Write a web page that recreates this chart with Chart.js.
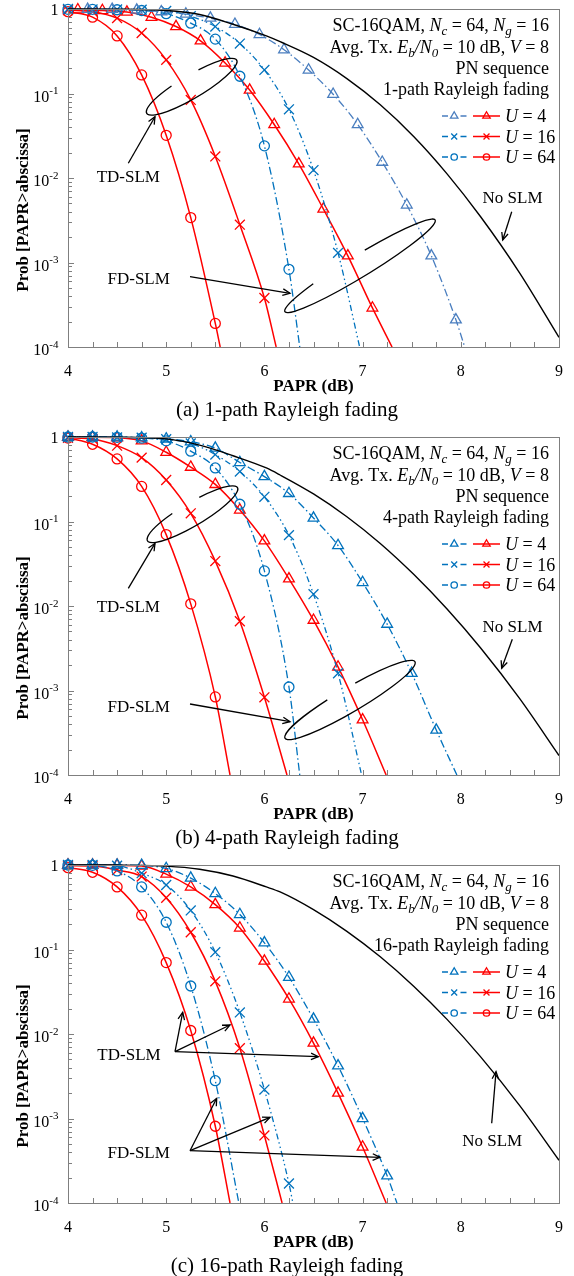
<!DOCTYPE html>
<html><head><meta charset="utf-8">
<script src="https://cdn.jsdelivr.net/npm/chart.js@4/dist/chart.umd.min.js"></script>
<style>
html,body{margin:0;padding:0;background:#fff;}
canvas{display:block;}
</style></head><body>
<canvas id="c0" width="574" height="428"></canvas>
<canvas id="c1" width="574" height="428"></canvas>
<canvas id="c2" width="574" height="420"></canvas>
<script>
// ---------- DATA ----------
const PAPR_GRID = [4,4.25,4.5,4.75,5,5.25,5.5,5.75,6,6.25,6.5,6.75,7,7.25,7.5,7.75];

// (a) 1-path
const A_TD64 = [0.93,0.80,0.48,0.166,0.032,0.0034,1.9e-4];
const A_TD16 = [0.97,0.93,0.78,0.52,0.25,0.084,0.018,2.8e-3,3.8e-4];
const A_TD4_X = [4.1,4.35,4.6,4.85,5.1,5.35,5.6,5.85,6.1,6.35,6.6,6.85,7.1];
const A_TD4 = [0.98,0.96,0.92,0.80,0.62,0.42,0.23,0.11,0.043,0.0147,4.3e-3,1.2e-3,2.9e-4];
const A_FD64 = [0.99,0.99,0.98,0.96,0.88,0.68,0.44,0.16,0.024,8.3e-4];
const A_FD16 = [1.0,0.99,0.99,0.98,0.95,0.82,0.62,0.39,0.19,0.065,0.0124,1.3e-3];
const A_FD4_X = [4.2,4.45,4.7,4.95,5.2,5.45,5.7,5.95,6.2,6.45,6.7,6.95,7.2,7.45,7.7,7.95];
const A_FD4 = [0.995,0.99,0.97,0.93,0.87,0.78,0.66,0.50,0.33,0.19,0.098,0.043,0.0154,4.8e-3,1.2e-3,2.1e-4];
const A_NOSLM_X = [4,4.5,5,5.34,5.68,6.02,6.16,6.5,6.84,7.18,7.52,7.86,8.2,8.6,9];
const A_NOSLM = [1.0,0.995,0.96,0.86,0.66,0.48,0.41,0.267,0.150,0.0735,0.031,0.0112,3.5e-3,7.5e-4,1.3e-4];
// PAPR where each curve leaves the plot at Prob = 1e-4 : TD64, TD16, TD4, FD64, FD16, FD4
const A_END = [5.55,6.12,7.30,6.36,6.97,8.04];

// (b) 4-path
const B_TD64 = [0.97,0.82,0.55,0.26,0.07,0.0106,8.4e-4];
const B_TD16 = [0.98,0.95,0.79,0.57,0.31,0.125,0.034,6.6e-3,8.3e-4];
const B_TD4 = [0.99,0.99,0.98,0.90,0.66,0.44,0.275,0.137,0.059,0.021,6.8e-3,1.9e-3,4.5e-4];
const B_FD64 = [1.0,1.0,0.99,0.97,0.90,0.68,0.43,0.16,0.026,1.1e-3];
const B_FD16 = [1.0,1.0,0.99,0.98,0.94,0.84,0.62,0.39,0.196,0.069,0.0138,1.6e-3];
const B_FD4 = [1.0,1.0,1.0,0.98,0.95,0.88,0.74,0.50,0.34,0.215,0.11,0.052,0.019,6.1e-3,1.6e-3,3.4e-4];
const B_NOSLM_X = [4,4.5,5,5.34,5.68,6.02,6.16,6.5,6.84,7.18,7.52,7.86,8.2,8.6,9];
const B_NOSLM = [1.0,0.995,0.95,0.80,0.60,0.43,0.355,0.212,0.114,0.055,0.0237,9.2e-3,3.2e-3,8.0e-4,1.7e-4];
const B_END = [5.65,6.23,7.24,6.36,6.99,7.96];

// (c) 16-path
const C_TD64 = [0.93,0.82,0.55,0.255,0.07,0.011,8.1e-4];
const C_TD16 = [0.98,0.97,0.87,0.73,0.41,0.16,0.042,6.8e-3,6.3e-4];
const C_TD4 = [1.0,1.0,0.99,0.97,0.78,0.55,0.34,0.18,0.073,0.026,7.8e-3,2.0e-3,4.6e-4];
const C_FD64 = [1.0,0.99,0.85,0.55,0.21,0.037,2.8e-3];
const C_FD16 = [1.0,1.0,0.98,0.80,0.58,0.29,0.093,0.018,2.2e-3,1.7e-4];
const C_FD4 = [1.0,1.0,1.0,0.99,0.91,0.70,0.46,0.26,0.12,0.047,0.015,4.2e-3,1.0e-3,2.1e-4];
const C_NOSLM_X = [4,4.5,5,5.34,5.68,6.02,6.16,6.5,6.84,7.18,7.52,7.86,8.2,8.6,9];
const C_NOSLM = [1.0,0.998,0.97,0.89,0.74,0.55,0.48,0.296,0.164,0.082,0.0368,0.0149,5.4e-3,1.42e-3,3.2e-4];
const C_END = [5.65,6.18,7.24,5.74,6.29,7.35];

const X_TICKS = [4,5,6,7,8,9];
const Y_DECADES = [-4,-3,-2,-1,0];
const U_LABELS = ['4','16','64'];
const CAPTIONS = ['(a) 1-path Rayleigh fading','(b) 4-path Rayleigh fading','(c) 16-path Rayleigh fading'];
const FADING = ['1-path Rayleigh fading','4-path Rayleigh fading','16-path Rayleigh fading'];

// ---------- STYLE ----------
const SERIF = "'Liberation Serif','Times New Roman',Times,serif";
const RED = '#ff0000', BLUE = '#0072bd', BLUE_L = '#4a7ebf', AXIS = '#7f7f7f';
const DASH_A = [8,3,1.5,3], DASH_B = [6,3,1.5,3,1.5,3];

function grid(ys){ return PAPR_GRID.slice(0, ys.length); }
function ds(label, xs, ys, endX, color, style, dash, r, lw) {
  const n = xs.length;
  const data = xs.map((x,i)=>({x:x, y:ys[i]}));
  if (endX != null) data.push({x:endX, y:1e-4});
  return {
    label, data, borderColor: color, borderWidth: lw||1.5, borderDash: dash||[],
    pointStyle: style, pointRadius: c => (c.dataIndex < n && style) ? r : 0,
    pointHoverRadius: 0, pointBorderColor: color, pointBackgroundColor: 'rgba(0,0,0,0)',
    pointBorderWidth: 1.3, fill: false, cubicInterpolationMode: 'monotone',
    clip: {left: 8, top: 8, right: 0, bottom: 0}
  };
}
function panelSets(p) {
  const d = [];
  d.push(ds('No SLM', p.nx, p.ny, null, '#000', false, [], 0, 1.4));
  d.push(ds('FD U=4', p.fd4x, p.fd4, p.end[5], p.triColor, 'triangle', DASH_A, 6.2, 1.3));
  d.push(ds('FD U=16', grid(p.fd16), p.fd16, p.end[4], BLUE, 'crossRot', DASH_B, 7, 1.3));
  d.push(ds('FD U=64', grid(p.fd64), p.fd64, p.end[3], BLUE, 'circle', DASH_A, 5, 1.3));
  d.push(ds('TD U=4', p.td4x, p.td4, p.end[2], RED, 'triangle', [], 6.2, 1.5));
  d.push(ds('TD U=16', grid(p.td16), p.td16, p.end[1], RED, 'crossRot', [], 7, 1.5));
  d.push(ds('TD U=64', grid(p.td64), p.td64, p.end[0], RED, 'circle', [], 5, 1.5));
  return d;
}
const PANELS = [
  {nx:A_NOSLM_X, ny:A_NOSLM, td64:A_TD64, td16:A_TD16, td4x:A_TD4_X, td4:A_TD4,
   fd64:A_FD64, fd16:A_FD16, fd4x:A_FD4_X, fd4:A_FD4, end:A_END, triColor:BLUE_L},
  {nx:B_NOSLM_X, ny:B_NOSLM, td64:B_TD64, td16:B_TD16, td4x:grid(B_TD4), td4:B_TD4,
   fd64:B_FD64, fd16:B_FD16, fd4x:grid(B_FD4), fd4:B_FD4, end:B_END, triColor:BLUE},
  {nx:C_NOSLM_X, ny:C_NOSLM, td64:C_TD64, td16:C_TD16, td4x:grid(C_TD4), td4:C_TD4,
   fd64:C_FD64, fd16:C_FD16, fd4x:grid(C_FD4), fd4:C_FD4, end:C_END, triColor:BLUE}
];

// annotation layout (canvas pixels)
const ANNOT = [
  { ellipses: [{cx:191.7, cy:86.7, a:52.3, b:11.5, rot:-30.6, gap:[-109,-74]},
               {cx:360, cy:265.8, a:88, b:11, rot:-31.4, gap:[-124,-82]}],
    arrows: [[128.3,163.3,155,116.7],[190,276.7,290,293.3],[511.7,211.7,502.7,240]],
    texts: [['TD-SLM',128.3,182],['FD-SLM',138.7,284],['No SLM',512.5,203]] },
  { ellipses: [{cx:192.5, cy:86.2, a:52.3, b:11.5, rot:-30.6, gap:[-109,-74]},
               {cx:350, cy:272, a:75.4, b:12, rot:-30.5, gap:[-105,-80]}],
    arrows: [[128.3,160.3,155,115.3],[190,276,290,293.7],[512.3,211.3,501.7,240.3]],
    texts: [['TD-SLM',128.3,183.7],['FD-SLM',138.7,283.7],['No SLM',512.5,203.7]] },
  { ellipses: [],
    arrows: [[175,195.7,182.7,156.3],[175,195.7,230,169],[175,195.7,318.3,200.7],
             [190,294.7,216.7,242.3],[190,294.7,270,261.3],[190,294.7,380,301.3],
             [491.7,267.3,496,215.7]],
    texts: [['TD-SLM',129,204],['FD-SLM',138.7,302.3],['No SLM',492.2,290]] }
];

function marker(ctx, style, x, y, r, color, lw) {
  ctx.save(); ctx.strokeStyle = color; ctx.lineWidth = lw; ctx.setLineDash([]); ctx.beginPath();
  if (style === 'circle') ctx.arc(x, y, r, 0, 2*Math.PI);
  else if (style === 'triangle') { ctx.moveTo(x, y-r); ctx.lineTo(x+r*0.866, y+r*0.5); ctx.lineTo(x-r*0.866, y+r*0.5); ctx.closePath(); }
  else { const d = r*0.707; ctx.moveTo(x-d,y-d); ctx.lineTo(x+d,y+d); ctx.moveTo(x+d,y-d); ctx.lineTo(x-d,y+d); }
  ctx.stroke(); ctx.restore();
}
function rich(ctx, segs, xRight, base, size) {
  const f = s => s==='n' ? `${size}px ${SERIF}` : s==='i' ? `italic ${size}px ${SERIF}` : `italic ${Math.round(size*0.7)}px ${SERIF}`;
  let w = 0;
  segs.forEach(([t,s]) => { ctx.font = f(s); w += ctx.measureText(t).width; });
  let x = xRight - w;
  ctx.textAlign = 'left';
  segs.forEach(([t,s]) => { ctx.font = f(s); ctx.fillText(t, x, base + (s==='s' ? 4 : 0)); x += ctx.measureText(t).width; });
}
function arrow(ctx, x0, y0, x1, y1) {
  ctx.beginPath(); ctx.moveTo(x0,y0); ctx.lineTo(x1,y1); ctx.stroke();
  const ang = Math.atan2(y1-y0, x1-x0), L = 8, s = 0.42;
  ctx.beginPath();
  ctx.moveTo(x1 - L*Math.cos(ang - s), y1 - L*Math.sin(ang - s));
  ctx.lineTo(x1, y1);
  ctx.lineTo(x1 - L*Math.cos(ang + s), y1 - L*Math.sin(ang + s));
  ctx.stroke();
}

const deco = {
  id: 'deco',
  afterDraw(chart) {
    const idx = chart.options.plugins.deco.idx;
    const {ctx, chartArea: a, scales: {x, y}} = chart;
    ctx.save();
    // frame
    ctx.strokeStyle = AXIS; ctx.lineWidth = 1; ctx.setLineDash([]);
    ctx.strokeRect(Math.round(a.left)+0.5, Math.round(a.top)+0.5, Math.round(a.right-a.left), Math.round(a.bottom-a.top));
    // x ticks (inward)
    ctx.beginPath();
    for (let v = 4.25; v < 9; v += 0.25) {
      const px = Math.round(x.getPixelForValue(v)) + 0.5;
      ctx.moveTo(px, a.bottom); ctx.lineTo(px, a.bottom - 5);
    }
    // y ticks
    Y_DECADES.forEach(d => {
      for (let m = 1; m <= 9; m++) {
        const v = m * Math.pow(10, d);
        if (v > 1 + 1e-9) continue;
        const py = Math.round(y.getPixelForValue(v)) + 0.5;
        ctx.moveTo(a.left, py); ctx.lineTo(a.left + (m === 1 ? 6 : 4), py);
      }
    });
    ctx.stroke();
    // x tick labels
    ctx.fillStyle = '#000';
    ctx.font = `16px ${SERIF}`; ctx.textAlign = 'center'; ctx.textBaseline = 'alphabetic';
    X_TICKS.forEach(v => ctx.fillText(String(v), x.getPixelForValue(v), a.bottom + 28.5));
    // y tick labels
    Y_DECADES.forEach(d => {
      const py = y.getPixelForValue(Math.pow(10, d));
      const right = a.left - 9.5;
      if (d === 0) {
        ctx.font = `16px ${SERIF}`; ctx.textAlign = 'right';
        ctx.fillText('1', right, py + 6);
      } else {
        const sup = String(d);
        ctx.font = `11px ${SERIF}`; ctx.textAlign = 'right';
        const sw = ctx.measureText(sup).width;
        ctx.fillText(sup, right, py + 0.5);
        ctx.font = `16px ${SERIF}`;
        ctx.fillText('10', right - sw, py + 8);
      }
    });
    // axis titles
    ctx.font = `bold 17px ${SERIF}`; ctx.textAlign = 'center';
    ctx.fillText('PAPR (dB)', (a.left + a.right)/2, a.bottom + 43.5);
    ctx.save();
    ctx.translate(28, (a.top + a.bottom)/2 + 32);
    ctx.rotate(-Math.PI/2);
    ctx.fillText('Prob [PAPR>abscissa]', 0, 0);
    ctx.restore();
    // caption
    ctx.font = `21px ${SERIF}`; ctx.textAlign = 'center';
    ctx.fillText(CAPTIONS[idx], 287, 415.5);
    // info text
    const R = 549;
    rich(ctx, [['SC-16QAM, ','n'],['N','i'],['c','s'],[' = 64, ','n'],['N','i'],['g','s'],[' = 16','n']], R, 31, 18);
    rich(ctx, [['Avg. Tx. ','n'],['E','i'],['b','s'],['/N','i'],['0','s'],[' = 10 dB, ','n'],['V','i'],[' = 8','n']], R, 52.5, 18);
    rich(ctx, [['PN sequence','n']], R, 74, 18);
    rich(ctx, [[FADING[idx],'n']], R, 94.5, 18);
    // legend
    const rows = [116, 136.5, 157], styles = ['triangle','crossRot','circle'], lr = [4.3, 4.2, 3.2];
    rows.forEach((ry, i) => {
      const bc = (i === 0) ? PANELS[idx].triColor : BLUE;
      ctx.lineWidth = 1.3; ctx.strokeStyle = bc; ctx.setLineDash([]);
      ctx.beginPath(); ctx.moveTo(442, ry); ctx.lineTo(448, ry); ctx.moveTo(460.5, ry); ctx.lineTo(466.5, ry); ctx.stroke();
      marker(ctx, styles[i], 454.2, ry, lr[i], bc, 1.3);
      ctx.strokeStyle = RED; ctx.lineWidth = 1.5;
      ctx.beginPath(); ctx.moveTo(473, ry); ctx.lineTo(500, ry); ctx.stroke();
      marker(ctx, styles[i], 486.5, ry, lr[i], RED, 1.3);
      ctx.fillStyle = '#000';
      ctx.textAlign = 'left';
      ctx.font = `italic 18px ${SERIF}`; ctx.fillText('U', 505, ry + 6);
      const uw = ctx.measureText('U').width;
      ctx.font = `18px ${SERIF}`; ctx.fillText(' = ' + U_LABELS[i], 505 + uw, ry + 6);
    });
    // annotations
    const an = ANNOT[idx];
    ctx.strokeStyle = '#000'; ctx.lineWidth = 1.3; ctx.setLineDash([]);
    an.ellipses.forEach(e => {
      ctx.beginPath();
      ctx.ellipse(e.cx, e.cy, e.a, e.b, e.rot*Math.PI/180, e.gap[1]*Math.PI/180, (e.gap[0]+360)*Math.PI/180);
      ctx.stroke();
    });
    an.arrows.forEach(ar => arrow(ctx, ar[0], ar[1], ar[2], ar[3]));
    ctx.font = `17px ${SERIF}`; ctx.textAlign = 'center'; ctx.fillStyle = '#000';
    an.texts.forEach(t => ctx.fillText(t[0], t[1], t[2]));
    ctx.restore();
  }
};

PANELS.forEach((p, i) => {
  const H = i < 2 ? 428 : 420;
  new Chart(document.getElementById('c' + i), {
    type: 'line',
    data: { datasets: panelSets(p) },
    options: {
      responsive: false, animation: false, events: [],
      layout: { padding: { left: 68, right: 15, top: 9, bottom: H - 347 } },
      scales: {
        x: { type: 'linear', min: 4, max: 9, display: false },
        y: { type: 'logarithmic', min: 1e-4, max: 1, display: false }
      },
      plugins: { legend: { display: false }, tooltip: { enabled: false }, deco: { idx: i } }
    },
    plugins: [deco]
  });
});
</script>
</body></html>
